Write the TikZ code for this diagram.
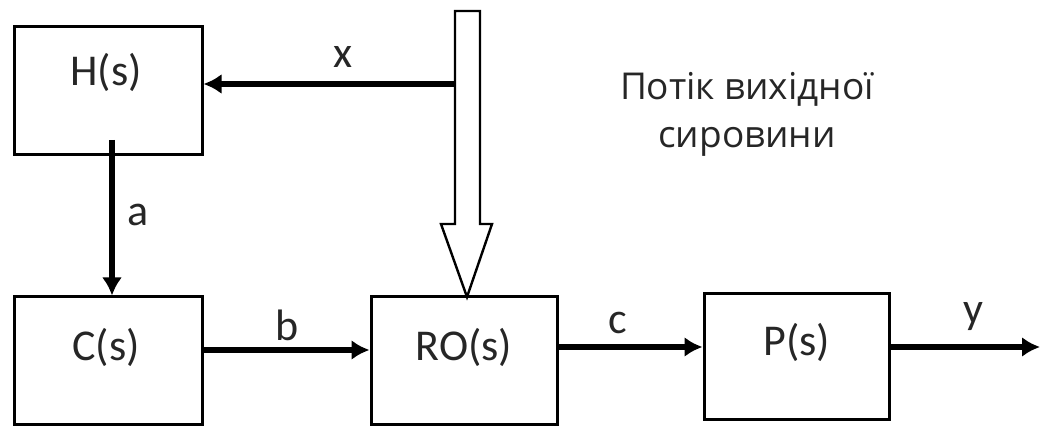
\documentclass[tikz,border=0pt]{standalone}
\usepackage{fontspec}
\setmainfont{Carlito}
\newfontfamily\uafont{Open Sans}
\usetikzlibrary{arrows.meta,fit}
\begin{document}
\begin{tikzpicture}[x=0.5pt,y=-0.5pt,
  box/.style={draw,line width=1.5pt,inner sep=0pt},
  lbl/.style={font=\fontsize{22}{24}\selectfont,text=black!85,inner sep=0pt},
  arr/.style={line width=2.8pt,-{Latex[length=9pt,width=10pt]}},
  hollow/.style={draw,line width=1.2pt,fill=white,line join=miter}]
\useasboundingbox (0,0) rectangle (1040,427);
% boxes
\node[box,fit={(14,27) (202,155)}] (H) {};
\node[box,fit={(14,297) (202,425)}] (C) {};
\node[box,fit={(371,297) (557,425)}] (RO) {};
\node[box,fit={(704,294) (889,420)}] (P) {};
% box texts
\node[lbl] (Ht) at (106,72) {H(s)};
\node[lbl] (Ct) at (106,347) {C(s)};
\node[lbl] (ROt) at (464,347) {RO(s)};
\node[lbl] (Pt) at (797,342) {P(s)};
% hollow flow arrow
\draw[hollow] (455,11) -- (480,11) -- (480,224) -- (492,224) -- (467,297) -- (441,224) -- (455,224) -- cycle;
\coordinate (xs) at (455,84);
\coordinate (as) at (112,140);
\coordinate (ys) at (1040,347);
\coordinate (bl) at (0,350);
\coordinate (cl) at (0,347);
% connectors
\draw[arr] (xs) -- (xs -| H.east);
\draw[arr] (as) -- (as |- C.north);
\draw[arr] (C.east |- bl) -- (RO.west |- bl);
\draw[arr] (RO.east |- cl) -- (P.west |- cl);
\draw[arr] (P.east |- ys) -- (ys);
% signal labels
\node[lbl] (xl) at (343,57) {x};
\node[lbl] (al) at (138,215) {a};
\node[lbl] (bl2) at (287,325) {b};
\node[lbl] (cl2) at (618,323) {c};
\node[lbl] (yl) at (973,317) {y};
% flow text
\node[font=\uafont\fontsize{18.5}{24}\selectfont,text=black!85,align=center,inner sep=0pt] (flow) at (747,114) {Потік вихідної\\сировини};
\end{tikzpicture}
\end{document}
